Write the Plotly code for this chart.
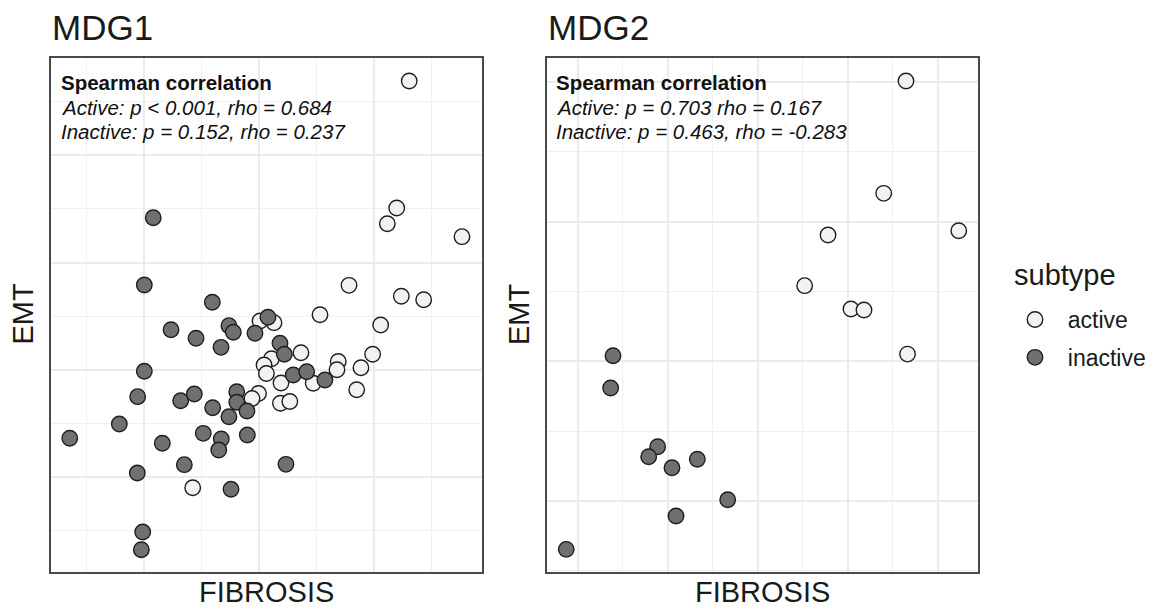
import plotly.graph_objects as go

# ---------------- data ----------------
# MDG1 panel
mdg1_active_fibrosis = [1.310, 1.201, 1.119, 1.770, 0.785, 1.241, 1.436, 0.532, 1.061,
                        0.009, 0.131, 0.366, 0.109, 0.044, 0.065, 0.991, 0.889, 0.691,
                        0.680, 0.192, 0.473, 0.852, -0.004, -0.061, 0.187, 0.269, -0.578]
mdg1_active_emt = [2.692, 1.508, 1.362, 1.241, 0.787, 0.685, 0.653, 0.513, 0.417,
                   0.455, 0.439, 0.159, 0.103, 0.044, -0.035, 0.144, 0.019, 0.077,
                   0.000, -0.124, -0.126, -0.186, -0.221, -0.268, -0.313, -0.296, -1.100]
mdg1_inactive_fibrosis = [-0.922, -1.000, -0.407, -0.767, -0.549, -0.331, -0.262, -0.224,
                          -0.035, 0.078, 0.183, 0.221, -1.000, 0.299, 0.416, 0.575,
                          -1.058, -0.683, -0.564, -0.404, -0.194, -0.194, -0.105, -0.262,
                          -1.218, -1.650, -0.843, -0.486, -0.329, -0.351, -0.102, -0.651,
                          0.235, -1.061, -0.244, -1.014, -1.026]
mdg1_inactive_emt = [1.418, 0.790, 0.629, 0.373, 0.293, 0.209, 0.411, 0.349,
                     0.340, 0.489, 0.247, 0.144, -0.014, -0.049, -0.018, -0.096,
                     -0.251, -0.289, -0.226, -0.354, -0.205, -0.303, -0.385, -0.438,
                     -0.506, -0.639, -0.686, -0.593, -0.646, -0.748, -0.608, -0.885,
                     -0.882, -0.963, -1.115, -1.513, -1.678]

# MDG2 panel
mdg2_active_fibrosis = [1.649, 1.401, 0.782, 2.236, 0.522, 1.037, 1.182, 1.666]
mdg2_active_emt = [2.007, 1.203, 0.905, 0.935, 0.542, 0.375, 0.368, 0.052]
mdg2_inactive_fibrosis = [-1.610, -1.636, -1.113, -1.213, -0.954, -0.672, -0.334, -0.909, -2.130]
mdg2_inactive_emt = [0.040, -0.191, -0.611, -0.683, -0.762, -0.701, -0.991, -1.107, -1.346]

panel_titles = ["MDG1", "MDG2"]
stats_lines = [
    ["<b>Spearman correlation</b>",
     "<i>Active: p < 0.001, rho = 0.684</i>",
     "<i>Inactive: p = 0.152, rho = 0.237</i>"],
    ["<b>Spearman correlation</b>",
     "<i>Active: p = 0.703 rho = 0.167</i>",
     "<i>Inactive: p = 0.463, rho = -0.283</i>"],
]
subtypes = ["active", "inactive"]
legend_title = "subtype"

# ---------------- style ----------------
FONT = "Liberation Sans, Arial, sans-serif"
TXT = "#1a1a1a"
fill = {"active": "#f2f2f2", "inactive": "#707070"}
W, H = 1153, 609

fig = go.Figure()

panels = [
    ("x", "y", {"active": (mdg1_active_fibrosis, mdg1_active_emt),
                "inactive": (mdg1_inactive_fibrosis, mdg1_inactive_emt)}),
    ("x2", "y2", {"active": (mdg2_active_fibrosis, mdg2_active_emt),
                  "inactive": (mdg2_inactive_fibrosis, mdg2_inactive_emt)}),
]
for pi, (xa, ya, groups) in enumerate(panels):
    for st in subtypes:
        xs, ys = groups[st]
        fig.add_trace(go.Scatter(
            x=xs, y=ys, mode="markers", xaxis=xa, yaxis=ya,
            name="\u00a0\u00a0" + st, legendgroup=st, showlegend=(pi == 0),
            marker=dict(size=15.5, color=fill[st], line=dict(color="#1e1e1e", width=1.4)),
        ))

grid = dict(showgrid=True, gridcolor="#ebebeb", gridwidth=1.6,
            zeroline=False, showticklabels=False, ticks="",
            showline=True, mirror=True, linecolor="#4a4a4a", linewidth=1.6)
minor = dict(showgrid=True, gridcolor="#f0f0f0", gridwidth=0.9, ticks="")

ydom = [1 - 572 / H, 1 - 58 / H]
fig.update_layout(
    width=W, height=H, margin=dict(l=0, r=0, t=0, b=0),
    paper_bgcolor="white", plot_bgcolor="white",
    font=dict(family=FONT, color=TXT),
    xaxis=dict(domain=[50.5 / W, 481.7 / W], range=[-1.818, 1.942], dtick=1, tick0=0,
               minor=dict(dtick=0.5, tick0=0, **minor), **grid),
    yaxis=dict(domain=ydom, range=[-1.886, 2.907], dtick=1, tick0=0,
               minor=dict(dtick=0.5, tick0=0, **minor), **grid),
    xaxis2=dict(domain=[547 / W, 978 / W], range=[-2.344, 2.450], dtick=1, tick0=0,
                minor=dict(dtick=0.5, tick0=0, **minor), anchor="y2", **grid),
    yaxis2=dict(domain=ydom, range=[-1.508, 2.172], dtick=1, tick0=0,
                minor=dict(dtick=0.5, tick0=0, **minor), anchor="x2", **grid),
    legend=dict(
        font=dict(size=23, family=FONT, color=TXT),
        x=1015 / W, xanchor="left", y=1 - 298 / H, yanchor="top",
        tracegroupgap=5, bgcolor="rgba(0,0,0,0)",
    ),
)

# legend title
fig.add_annotation(text=legend_title, xref="paper", yref="paper",
                   x=1012.5 / W, y=1 - 275 / H, xanchor="left", yanchor="middle",
                   showarrow=False, borderpad=0, font=dict(size=29, family=FONT, color=TXT))

# panel titles, stats, axis titles
centers_x = [(50.5 + 481.7) / 2, (547 + 978) / 2]
lefts = [50.5, 547]
stats_left = [59.3, 553.7]
stats_mid = [82.1, 107.1, 131.4]
emt_x = [22.5, 519]
for i in range(2):
    fig.add_annotation(text=panel_titles[i], xref="paper", yref="paper",
                       x=(lefts[i] - 1) / W, y=1 - 27.8 / H, xanchor="left", yanchor="middle",
                       showarrow=False, font=dict(size=35, family=FONT, color=TXT))
    for k, line in enumerate(stats_lines[i]):
        fig.add_annotation(text=line, xref="paper", yref="paper",
                           x=stats_left[i] / W, y=1 - stats_mid[k] / H,
                           xanchor="left", yanchor="middle", align="left", showarrow=False,
                           font=dict(size=20.5, family=FONT, color="#111111"))
    fig.add_annotation(text="FIBROSIS", xref="paper", yref="paper",
                       x=centers_x[i] / W, y=0, xanchor="center", yanchor="bottom",
                       borderpad=0, showarrow=False,
                       font=dict(size=29, family=FONT, color=TXT))
    fig.add_annotation(text="EMT", xref="paper", yref="paper", textangle=-90,
                       x=emt_x[i] / W, y=1 - 314 / H, xanchor="center", yanchor="middle",
                       showarrow=False, font=dict(size=29, family=FONT, color=TXT))

fig.write_html("out.html")
